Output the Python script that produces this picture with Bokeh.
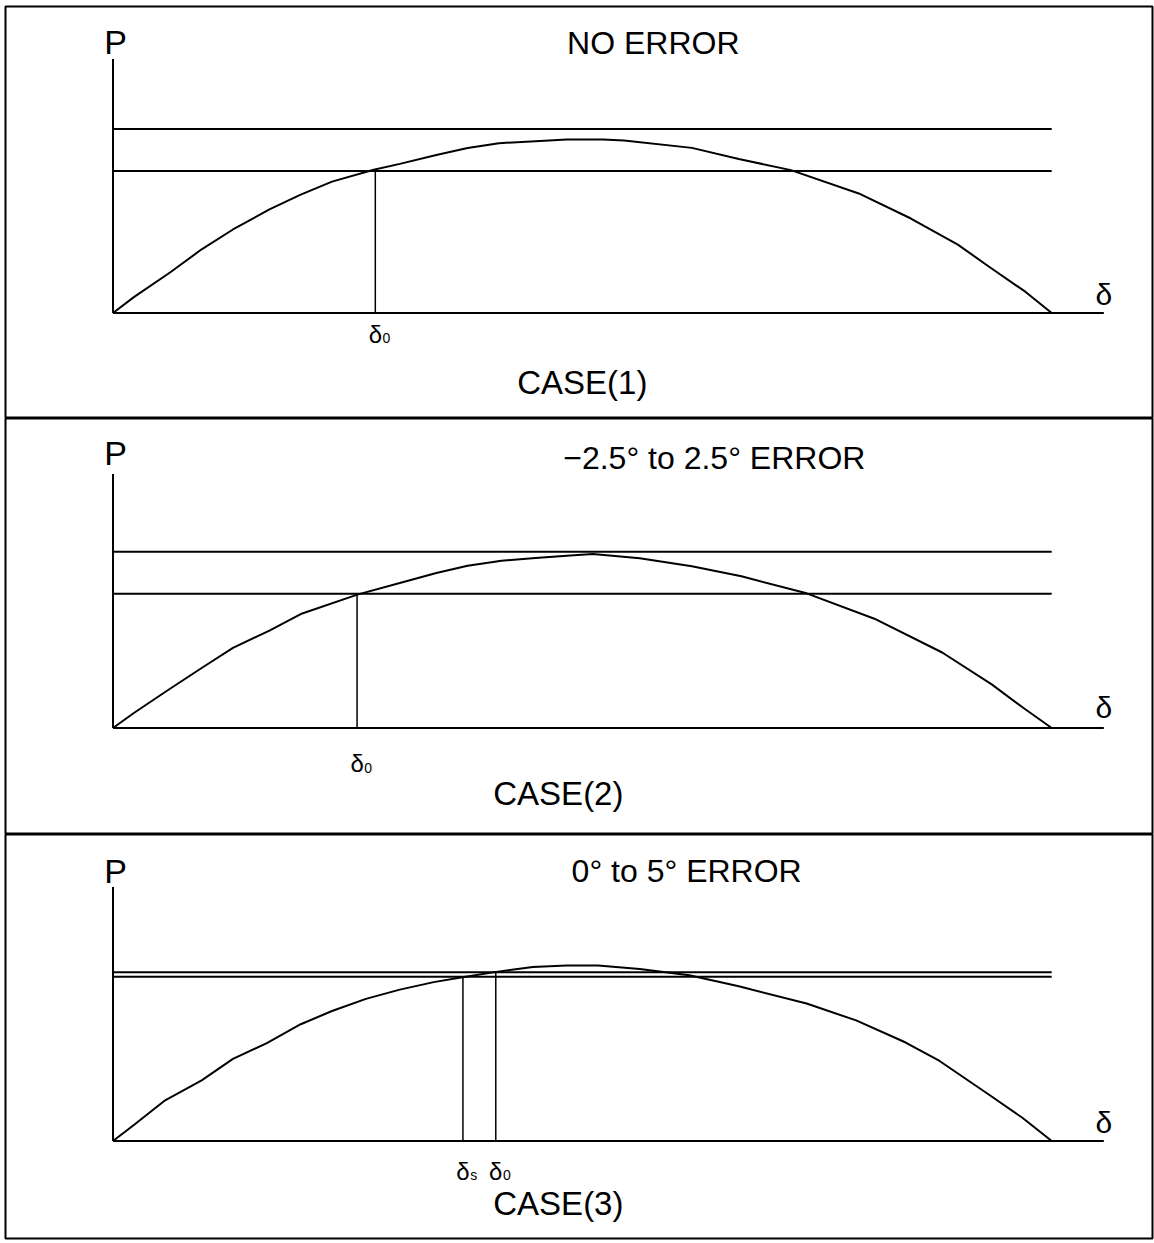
from bokeh.plotting import figure
from bokeh.layouts import column
from bokeh.models import Range1d
from bokeh.core.properties import value
from bokeh.embed import file_html
from bokeh.resources import INLINE

# Power-angle curves: load angle delta (degrees) and electrical power (per unit of peak)
delta_1 = [0, 4, 11, 17, 23, 30, 36, 42, 50, 55, 62, 68, 74, 81, 87, 94, 98,
           111, 120, 130, 143, 153, 162, 168, 175, 180]
power_1 = [0, 0.091, 0.234, 0.366, 0.480, 0.595, 0.680, 0.755, 0.823, 0.857,
           0.908, 0.948, 0.976, 0.987, 0.997, 0.997, 0.991, 0.949, 0.885, 0.821,
           0.687, 0.543, 0.393, 0.266, 0.121, 0]

delta_2 = [0, 4, 10.5, 17, 23, 30, 36, 47, 55, 62, 68, 74.5, 81, 87, 92, 101,
           111, 120.5, 133, 146, 159, 168.5, 175, 180]
power_2 = [0, 0.086, 0.217, 0.345, 0.460, 0.560, 0.655, 0.768, 0.833, 0.891,
           0.933, 0.961, 0.977, 0.990, 1.000, 0.975, 0.930, 0.872, 0.774, 0.628,
           0.434, 0.251, 0.106, 0]

delta_3 = [0, 4, 10, 17, 23, 29.5, 36, 42, 48.5, 55, 61.5, 67, 73.5, 80.5, 87,
           93, 101, 110.5, 120, 133, 142.5, 152, 158.5, 168, 174.5, 180]
power_3 = [0, 0.092, 0.234, 0.348, 0.472, 0.563, 0.671, 0.747, 0.817, 0.870,
           0.913, 0.941, 0.972, 1.000, 1.009, 1.008, 0.988, 0.953, 0.889, 0.790,
           0.693, 0.566, 0.460, 0.266, 0.131, 0]

# Horizontal power levels (upper, lower) for each case
levels_1 = [1.057, 0.816]
levels_2 = [1.013, 0.771]
levels_3 = [0.970, 0.944]

# Marked angles: (angle, level it rises to, subscript)
marks_1 = [(50.3, 0.816, "0")]
marks_2 = [(46.8, 0.771, "0")]
marks_3 = [(67.1, 0.944, "s"), (73.4, 0.970, "0")]

titles = ["NO ERROR", "\u22122.5\u00b0 to 2.5\u00b0 ERROR", "0\u00b0 to 5\u00b0 ERROR"]
cases = ["CASE(1)", "CASE(2)", "CASE(3)"]

# ---- layout constants (pixels) ----
W = 1154
PX_DEG = 5.215          # pixels per degree
PX_P = 174.0            # pixels per unit power
ORIGIN_X = 112.5
FRAME_L, FRAME_R = 5, 1152
DELTA_END = 180
AXIS_X_END = 190
AXIS_Y_TOP = 1.46

FONT = value("Liberation Sans")

panel_geom = [
    # frame top, frame bottom, baseline (page px), border top, border bottom
    dict(top=6, bottom=418, base=312.5, bt=6, bb=0),
    dict(top=418, bottom=834, base=727.5, bt=0, bb=0),
    dict(top=834, bottom=1238, base=1140.5, bt=0, bb=5),
]
text_pos = [
    # title centre delta, case centre delta, P baseline, mark label baseline, case baseline, delta label baseline
    dict(title_x=103.6, case_x=90.0, p_y=1.49, mark_y=-0.175, case_y=-0.468, d_y=0.043),
    dict(title_x=115.3, case_x=85.4, p_y=1.51, mark_y=-0.256, case_y=-0.445, d_y=0.055),
    dict(title_x=110.0, case_x=85.4, p_y=1.48, mark_y=-0.227, case_y=-0.428, d_y=0.043),
]

curves = [(delta_1, power_1), (delta_2, power_2), (delta_3, power_3)]
levels = [levels_1, levels_2, levels_3]
marks = [marks_1, marks_2, marks_3]


def label(p, x, y, s, size, align="center"):
    # text sits on its alphabetic baseline; nudge up to compensate the svg baseline shift
    p.text(x=[x], y=[y], text=[s], text_font=FONT, text_font_size=f"{size}px",
           text_align=align, text_baseline="alphabetic", text_color="black",
           y_offset=-round(0.36 * size))


figs = []
for i in range(3):
    g = panel_geom[i]
    t = text_pos[i]
    frame_h = g["bottom"] - g["top"]
    x_range = Range1d((FRAME_L - ORIGIN_X) / PX_DEG, (FRAME_R - ORIGIN_X) / PX_DEG)
    y_range = Range1d((g["base"] - g["bottom"]) / PX_P, (g["base"] - g["top"]) / PX_P)
    p = figure(width=W, height=frame_h + g["bt"] + g["bb"],
               x_range=x_range, y_range=y_range,
               x_axis_type=None, y_axis_type=None,
               toolbar_location=None, output_backend="svg",
               min_border_left=FRAME_L, min_border_right=W - FRAME_R,
               min_border_top=g["bt"], min_border_bottom=g["bb"])
    p.grid.visible = False
    p.outline_line_color = "black"
    p.outline_line_width = 2
    p.background_fill_color = "white"
    p.border_fill_color = "white"

    # axes
    p.line([0, 0], [0, AXIS_Y_TOP], line_color="black", line_width=2)
    p.line([0, AXIS_X_END], [0, 0], line_color="black", line_width=2)

    # power levels
    for lv in levels[i]:
        p.line([0, DELTA_END], [lv, lv], line_color="black", line_width=2)

    # power-angle curve
    d, pw = curves[i]
    p.line(d, pw, line_color="black", line_width=2)

    # marked angles and their labels
    for ang, lv, sub in marks[i]:
        p.line([ang, ang], [0, lv], line_color="black", line_width=1.5)
        label(p, ang, t["mark_y"], "\u03b4", 24)
        label(p, ang + 1.4, t["mark_y"], sub, 14, align="left")

    # axis names
    label(p, 0.5, t["p_y"], "P", 34)
    label(p, AXIS_X_END, t["d_y"], "\u03b4", 30)

    # panel heading and case caption
    label(p, t["title_x"], 1.48, titles[i], 32)
    label(p, t["case_x"], t["case_y"], cases[i], 33)
    figs.append(p)

layout = column(*figs, spacing=0)
open("out.html", "w").write(file_html(layout, INLINE))
